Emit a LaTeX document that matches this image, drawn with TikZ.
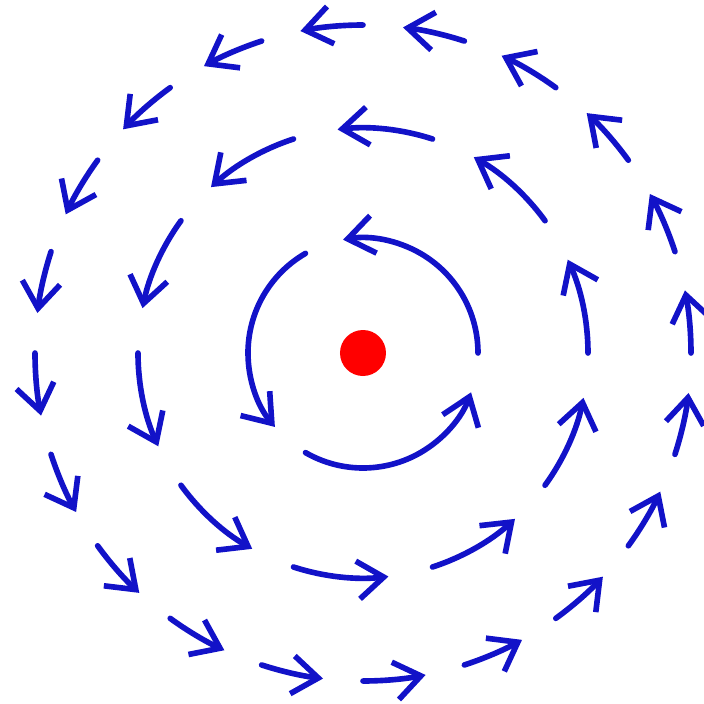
\documentclass[tikz,border=0pt]{standalone}
\usepackage{tikz}
\usetikzlibrary{arrows.meta}
\definecolor{swirlblue}{RGB}{18,18,200}

\begin{document}
\begin{tikzpicture}[
    flow/.style={draw=swirlblue, line width=1.6pt, line cap=round,
                 -{Straight Barb[length=2.6mm, width=3.8mm, line width=1.6pt]}},
    dot/.style={circle, fill=red, minimum size=4.6mm, inner sep=0pt}
]
\useasboundingbox (-3.63,-3.51) rectangle (3.41,3.53);
\node[dot] (core) at (0,0) {};

% inner ring
\foreach \a in {0,120,240}
  \draw[flow] (core.center) ++(\a:1.15) arc[start angle=\a, end angle=\a+100, radius=1.15];
% middle ring
\foreach \a in {0,36,...,324}
  \draw[flow] (core.center) ++(\a:2.25) arc[start angle=\a, end angle=\a+24.5, radius=2.25];
% outer ring
\foreach \a in {0,18,...,342}
  \draw[flow] (core.center) ++(\a:3.28) arc[start angle=\a, end angle=\a+11, radius=3.28];
\end{tikzpicture}
\end{document}
